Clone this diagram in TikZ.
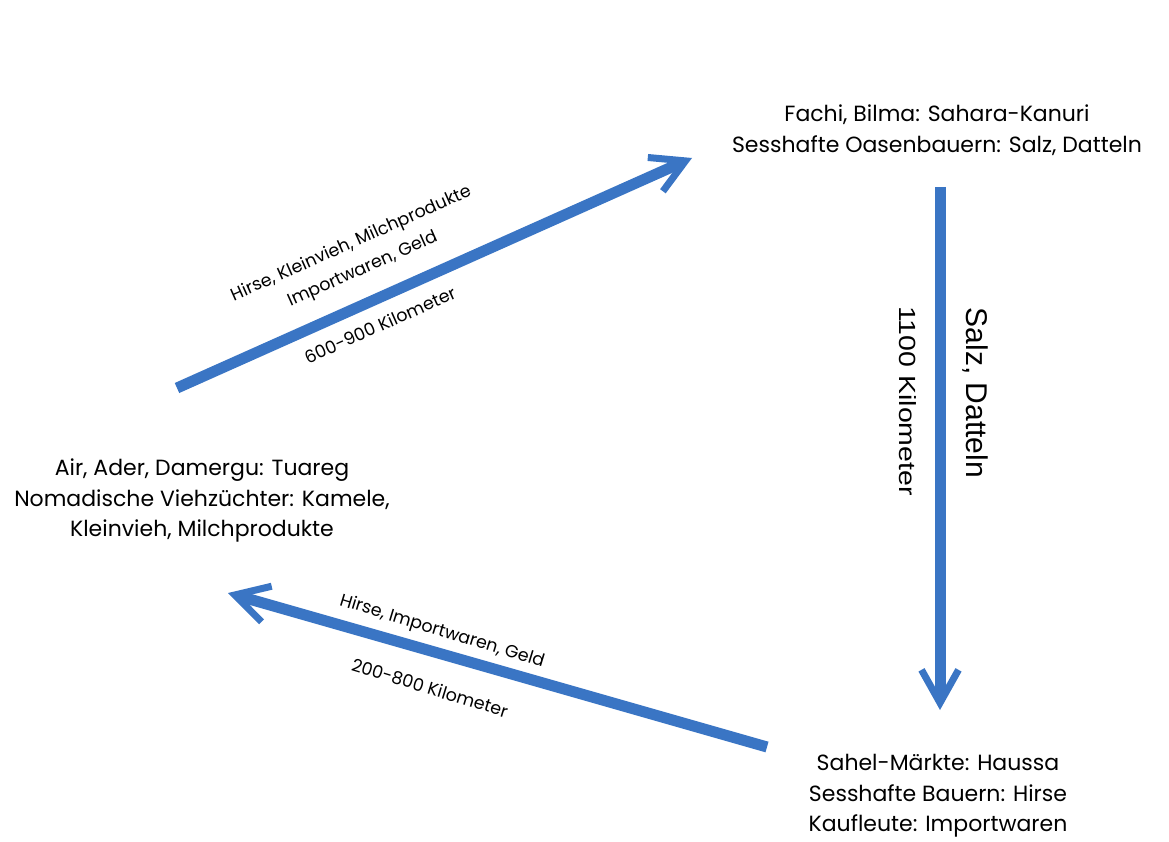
\documentclass[tikz,border=0pt]{standalone}
\usepackage{fontspec}
\setmainfont{Poppins}
\newfontfamily\arialfont{Liberation Sans}
\usetikzlibrary{arrows.meta}

\definecolor{routeblue}{RGB}{58,117,196}

\tikzset{
  route/.style={draw=routeblue, line width=11pt,
    -{Straight Barb[length=33pt,width=37pt,line width=7pt]}},
  place/.style={align=center, inner sep=0pt, font=\fontsize{22}{30.5}\selectfont},
  goods/.style={align=center, inner sep=0pt, font=\fontsize{17.5}{28}\selectfont},
  salt/.style={inner sep=0pt, font=\arialfont\fontsize{30}{34}\selectfont},
  saltdist/.style={inner sep=0pt, font=\arialfont\fontsize{28.5}{32}\selectfont}
}

\begin{document}
\begin{tikzpicture}[x=1pt,y=-1pt]
  \useasboundingbox (0,0) rectangle (1169,842);
  % places
  \node[place] (oasis) at (937,130) {Fachi, Bilma: Sahara-Kanuri\\Sesshafte Oasenbauern: Salz, Datteln};
  \node[place] (nomad) at (202,500.5) {Air, Ader, Damergu: Tuareg\\Nomadische Viehzüchter: Kamele,\\Kleinvieh, Milchprodukte};
  \node[place] (sahel) at (938,796) {Sahel-Märkte: Haussa\\Sesshafte Bauern: Hirse\\Kaufleute: Importwaren};
  % ends of the routes
  \coordinate (nomad-out) at (177,388);
  \coordinate (oasis-in) at (692,158);
  \coordinate (oasis-out) at (940,187);
  \coordinate (sahel-in) at (940,710);
  \coordinate (sahel-out) at (767,747);
  \coordinate (nomad-in) at (228,593);
  % routes
  \draw[route] (nomad-out) -- (oasis-in);
  \draw[route] (oasis-out) -- (sahel-in);
  \draw[route] (sahel-out) -- (nomad-in);
  % goods and distances
  \node[goods, rotate=24] (up-goods) at (357,257) {Hirse, Kleinvieh, Milchprodukte\\Importwaren, Geld};
  \node[goods, rotate=24] (up-dist) at (380,325) {600-900 Kilometer};
  \node[salt, rotate=-90] (down-goods) at (975,393) {Salz, Datteln};
  \node[saltdist, rotate=-90, yscale=0.82] (down-dist) at (908,401) {1100 Kilometer};
  \node[goods, rotate=-17] (back-goods) at (442,632) {Hirse, Importwaren, Geld};
  \node[goods, rotate=-17] (back-dist) at (430,688) {200-800 Kilometer};
\end{tikzpicture}
\end{document}
